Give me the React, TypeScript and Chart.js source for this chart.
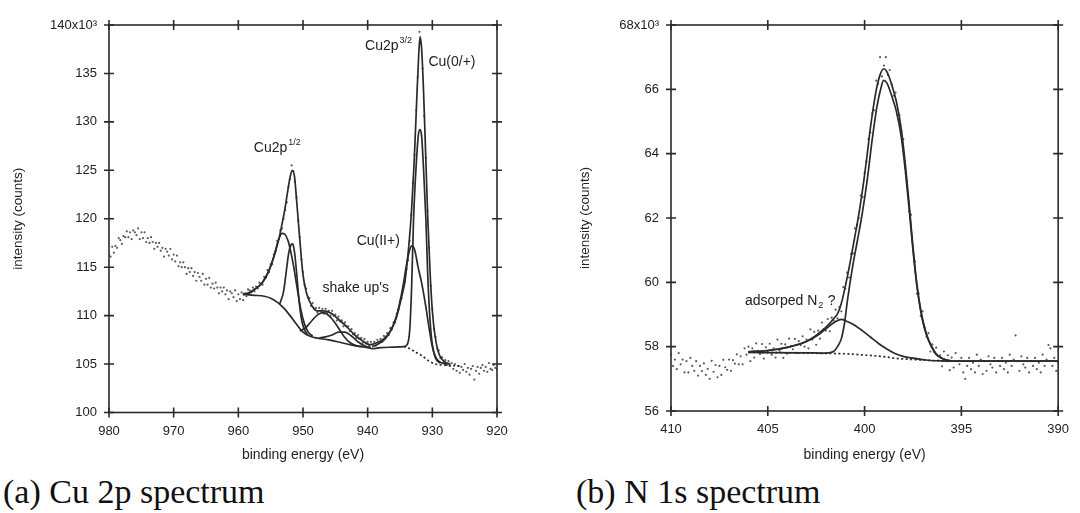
import React, { useEffect, useRef } from 'react';
import { Chart, registerables } from 'chart.js';

Chart.register(...registerables);

type P = [number, number];

// ---------- Panel (a): Cu 2p spectrum (binding energy eV, intensity x10^3 counts) ----------
const cuXTicks = { min: 920, max: 980, step: 10 };
const cuYTicks = { min: 100, max: 140, step: 5, topLabel: '140x10³' };

const cuData: P[] = [
  [980,116.3],[979.75,116.1],[979.5,117.1],[979.25,116.5],[979,117.2],[978.75,117.0],[978.5,118.0],[978.25,117.8],[978,117.4],[977.75,118.2],
  [977.5,118.1],[977.25,118.7],[977,118.1],[976.75,118.6],[976.5,117.9],[976.25,118.8],[976,118.6],[975.75,118.3],[975.5,119.0],[975.25,117.9],
  [975,118.6],[974.75,118.0],[974.5,118.6],[974.25,117.6],[974,118.0],[973.75,117.5],[973.5,118.1],[973.25,117.6],[973,116.9],[972.75,117.5],
  [972.5,117.1],[972.25,117.5],[972,116.7],[971.75,117.0],[971.5,116.1],[971.25,116.9],[971,116.6],[970.75,116.2],[970.5,116.9],[970.25,115.8],
  [970,116.3],[969.75,115.6],[969.5,116.2],[969.25,115.1],[969,115.5],[968.75,115.0],[968.5,115.5],[968.25,115.0],[968,114.3],[967.75,114.9],
  [967.5,114.5],[967.25,114.9],[967,114.1],[966.75,114.5],[966.5,113.6],[966.25,114.4],[966,114.0],[965.75,113.6],[965.5,114.3],[965.25,113.2],
  [965,113.8],[964.75,113.2],[964.5,113.9],[964.25,112.9],[964,113.3],[963.75,112.8],[963.5,113.4],[963.25,112.9],[963,112.3],[962.75,112.9],
  [962.5,112.5],[962.25,112.9],[962,112.2],[961.75,112.6],[961.5,111.7],[961.25,112.5],[961,112.3],[960.75,111.9],[960.5,112.6],[960.25,111.5],
  [960,112.2],[959.75,111.7],[959.5,112.4],[959.25,111.6],[959,112.3],[958.75,112.0],[958.5,112.7],
  [958.25,112.6],[958,112.4],[957.75,112.9],[957.5,112.5],[957.25,113.0],[957,112.8],[956.75,113.4],[956.5,113.3],[956.25,113.2],[956,114.0],
  [955.75,113.9],[955.5,114.7],[955.25,114.5],[955,115.3],[954.75,115.3],[954.5,116.3],[954.25,116.6],[954,117.7],[953.75,117.9],[953.5,118.8],
  [953.25,119.0],[953,120.0],[952.75,120.9],[952.5,121.7],[952.25,123.3],[952,124.1],[951.75,125.5],[951.5,124.9],[951.25,123.8],[951,122.2],
  [950.75,119.8],[950.5,118.1],[950.25,115.8],[950,114.5],[949.75,113.2],[949.5,112.8],[949.25,111.9],[949,111.8],[948.75,111.0],[948.5,111.3],
  [948.25,110.7],[948,110.8],[947.75,110.3],[947.5,110.8],[947.25,110.5],[947,110.7],[946.75,110.2],[946.5,110.7],[946.25,110.3],[946,110.5],
  [945.75,110.0],[945.5,110.5],[945.25,110.0],[945,110.1],[944.75,109.5],[944.5,109.9],[944.25,109.4],[944,109.5],[943.75,108.9],[943.5,109.3],
  [943.25,108.9],[943,108.9],[942.75,108.4],[942.5,108.6],[942.25,108.1],[942,108.2],[941.75,107.7],[941.5,108.0],[941.25,107.6],[941,107.7],
  [940.75,107.2],[940.5,107.6],[940.25,107.1],[940,107.3],[939.75,106.9],[939.5,107.3],[939.25,107.0],[939,107.3],[938.75,106.9],[938.5,107.5],
  [938.25,107.2],[938,107.6],[937.75,107.3],[937.5,107.9],[937.25,107.8],[937,108.2],[936.75,108.0],[936.5,108.7],[936.25,108.6],[936,109.3],
  [935.75,109.3],[935.5,110.2],[935.25,110.6],[935,111.5],[934.75,111.8],[934.5,113.0],[934.25,113.5],[934,114.8],[933.75,115.7],[933.5,117.7],
  [933.25,120.4],[933,123.7],[932.75,126.6],[932.5,131.2],[932.25,134.6],[932,139.3],[931.75,138.1],[931.5,135.5],[931.25,130.6],[931,126.3],
  [930.75,120.8],[930.5,117.0],[930.25,113.1],[930,110.7],[929.75,108.6],[929.5,107.8],[929.25,106.6],[929,106.4],[928.75,105.6],[928.5,105.7],
  [928.25,105.2],[928,105.4],[927.75,104.9],[927.5,105.3],[927.25,104.8],[927,105.1],
  [926.75,104.5],[926.5,105.0],[926.25,104.3],[926,104.8],[925.75,104.1],[925.5,104.7],[925.25,104.4],[925,105.0],[924.75,104.2],[924.5,104.6],
  [924.25,103.9],[924,104.5],[923.75,104.8],[923.5,103.4],[923.25,104.3],[923,104.7],[922.75,104.0],[922.5,104.6],[922.25,104.9],[922,104.3],
  [921.75,104.7],[921.5,104.2],[921.25,105.1],[921,104.5],[920.75,104.4],[920.5,104.9],[920.25,104.6],[920,104.5],
];

const cuEnvelope: P[] = [
  [959.3,112.2],[958.5,112.3],[957.5,112.7],[956.3,113.4],[955.3,114.6],[954.5,116.1],[953.7,118.0],[953.2,119.6],[952.8,121.0],[952.4,122.7],
  [952.0,124.3],[951.65,125.0],[951.3,124.3],[951.0,122.0],[950.5,117.9],[950.0,114.2],[949.4,112.2],[948.6,111.0],[947.8,110.5],[946.8,110.5],
  [945.5,110.2],[944.5,109.6],[943.3,108.9],[942.0,108.0],[940.8,107.4],[939.6,107.0],[938.6,107.2],[937.5,107.6],[936.5,108.4],[935.6,109.7],
  [934.8,111.8],[934.2,113.7],[933.6,117.5],[933.2,121.0],[932.8,126.0],[932.4,132.5],[932.1,137.0],[931.9,138.8],[931.65,137.5],[931.35,133.0],
  [931.0,126.0],[930.7,120.0],[930.35,114.5],[930.0,110.5],[929.6,108.0],[929.1,106.3],[928.5,105.5],[927.8,105.1],[927.2,105.0],
];
const cuBackground: P[] = [
  [959.3,112.2],[957.5,112.1],[956.0,112.0],[955.0,111.8],[954.0,111.4],[953.0,110.8],[952.0,110.0],[951.0,109.1],[950.0,108.3],[949.0,107.9],
  [948.0,107.7],[946.0,107.5],[944.0,107.2],[942.0,106.9],[940.0,106.7],[939.3,106.6],[938.0,106.7],[936.0,106.75],[934.4,106.8],
];
const cuBackgroundTail: P[] = [
  [934.4,106.8],[933.5,106.6],[932.5,106.2],[931.5,105.8],[930.5,105.3],[929.5,105.0],[928.5,104.9],[927.0,104.85],[925.5,104.8],
];
const cu12Broad: P[] = [
  [959.3,112.2],[958.5,112.3],[957.5,112.7],[956.3,113.4],[955.3,114.6],[954.5,116.1],[953.8,117.8],[953.25,118.5],[952.8,118.4],[952.3,117.7],
  [951.8,116.3],[951.3,114.5],[950.8,112.4],[950.3,110.5],[949.8,109.2],[949.2,108.3],[948.5,107.9],
];
const cu12Narrow: P[] = [
  [953.6,111.2],[953.0,112.5],[952.6,114.5],[952.2,116.5],[951.85,117.3],[951.6,117.4],[951.3,116.5],[951.0,114.5],[950.6,111.5],[950.2,109.5],
  [949.8,108.6],[949.3,108.0],
];
const cuShakeUp1: P[] = [
  [950.5,108.4],[949.5,108.8],[948.6,109.5],[947.7,110.1],[946.8,110.3],[946.0,110.0],[945.2,109.4],[944.4,108.6],[943.6,107.8],[942.7,107.2],
  [941.8,106.9],[940.8,106.8],
];
const cuShakeUp2: P[] = [
  [947.5,107.7],[946.5,107.8],[945.5,108.0],[944.5,108.3],[943.5,108.3],[942.5,107.9],[941.5,107.3],[940.5,106.9],[939.5,106.7],
];
const cuII: P[] = [
  [939.3,106.8],[938.3,107.1],[937.3,107.6],[936.3,108.6],[935.4,110.3],[934.6,112.8],[933.9,115.6],[933.4,117.0],[933.1,117.2],[932.7,116.7],
  [932.2,115.0],[931.6,113.2],[931.0,110.9],[930.4,108.3],[929.9,106.5],[929.3,105.5],[928.5,105.1],[927.7,105.0],
];
const cu0: P[] = [
  [934.4,106.8],[933.9,107.0],[933.5,108.5],[933.2,113.0],[932.9,120.0],[932.5,125.5],[932.15,128.7],[931.9,129.2],[931.65,128.5],[931.35,125.0],
  [931.0,120.0],[930.7,114.0],[930.35,109.5],[930.0,107.0],[929.5,105.6],[928.8,105.1],
];

// ---------- Panel (b): N 1s spectrum ----------
const nXTicks = { min: 390, max: 410, step: 5 };
const nYTicks = { min: 56, max: 68, step: 2, topLabel: '68x10³' };

const nData: P[] = [
  [410,57.75],[409.9,57.4],[409.8,57.6],[409.7,57.3],[409.6,57.8],[409.5,57.45],[409.4,57.6],[409.3,57.2],[409.2,57.55],[409.1,57.2],
  [409,57.65],[408.9,57.4],[408.8,57.25],[408.7,57.55],[408.6,57.1],[408.5,57.4],[408.4,57.24],[408.3,57.48],[408.2,57.12],[408.1,57.31],
  [408,57.0],[407.9,57.56],[407.8,57.22],[407.7,57.43],[407.6,57.05],[407.5,57.4],[407.4,57.12],[407.3,57.59],[407.2,57.36],[407.1,57.28],
  [407,57.6],[406.9,57.25],[406.8,57.58],[406.7,57.47],[406.6,57.76],[406.5,57.45],[406.4,57.7],[406.3,57.45],[406.2,57.95],[406.1,57.75],
  [406,58.0],[405.9,57.55],[405.8,57.95],[405.7,57.66],[405.6,58.1],[405.5,57.87],[405.4,57.77],[405.3,58.08],[405.2,57.63],[405.1,57.98],
  [405,57.83],[404.9,58.09],[404.8,57.75],[404.7,57.95],[404.6,57.66],[404.5,58.22],[404.4,57.88],[404.3,58.09],[404.2,57.65],[404.1,58.07],
  [404,57.78],[403.9,58.25],[403.8,58.01],[403.7,57.92],[403.6,58.24],[403.5,57.8],[403.4,58.17],[403.3,58.05],[403.2,58.32],[403.1,58.0],
  [403,58.22],[402.9,57.95],[402.8,58.54],[402.7,58.22],[402.6,58.46],[402.5,58.06],[402.4,58.5],[402.3,58.25],[402.2,58.75],[402.1,58.55],
  [402,58.5],[401.9,58.86],[401.8,58.48],[401.7,58.9],[401.6,58.82],[401.5,59.15],[401.4,58.88],[401.3,59.23],[401.2,59.1],[401.1,59.85],
  [401,59.8],[400.9,60.3],[400.8,60.15],[400.7,60.88],[400.6,60.9],[400.5,61.68],[400.4,61.77],[400.3,62.0],[400.2,62.7],[400.1,62.65],
  [400,63.4],[399.9,63.75],[399.8,64.45],[399.7,64.65],[399.6,65.25],[399.5,65.35],[399.4,66.27],[399.3,66.17],[399.2,67.0],[399.1,66.4],
  [399,66.74],[398.9,67.0],[398.8,66.45],[398.7,66.6],[398.6,66.15],[398.5,65.8],[398.4,65.9],[398.3,65.2],[398.2,65.2],[398.1,64.7],
  [398,64.45],[397.9,63.55],[397.8,63.15],[397.7,62.2],[397.6,62.1],[397.5,61.05],[397.4,60.65],[397.3,59.65],[397.2,59.65],[397.1,58.95],
  [397,59.1],[396.9,58.6],[396.8,58.3],[396.7,58.42],[396.6,57.85],[396.5,58.07],[396.4,57.83],[396.3,57.97],[396.2,57.57],[396.1,57.73],
  [396,57.39],[395.9,57.85],[395.8,57.55],[395.7,57.73],[395.6,57.27],[395.5,57.66],[395.4,57.35],[395.3,57.8],[395.2,57.55],[395.1,57.45],
  [395,57.65],[394.9,57.2],[394.8,57.0],[394.7,57.4],[394.6,57.65],[394.5,57.3],[394.4,57.5],[394.3,57.2],[394.2,57.75],[394.1,57.4],
  [394,57.6],[393.9,57.15],[393.8,57.55],[393.7,57.25],[393.6,57.7],[393.5,57.45],[393.4,57.35],[393.3,57.65],[393.2,57.2],[393.1,57.55],
  [393,57.4],[392.9,57.65],[392.8,57.3],[392.7,57.5],[392.6,57.2],[392.5,57.75],[392.4,57.4],[392.3,57.6],[392.2,58.35],[392.1,57.55],
  [392,57.25],[391.9,57.7],[391.8,57.45],[391.7,57.35],[391.6,57.65],[391.5,57.2],[391.4,57.55],[391.3,57.4],[391.2,57.65],[391.1,57.3],
  [391,57.5],[390.9,57.2],[390.8,57.75],[390.7,57.4],[390.6,57.6],[390.5,58.05],[390.4,57.95],[390.3,57.4],[390.2,57.65],[390.1,57.25],[390,57.5],
];

const nEnvelope: P[] = [
  [406.0,57.84],[405.0,57.88],[404.5,57.92],[404.0,57.98],[403.5,58.05],[403.0,58.17],[402.6,58.31],[402.2,58.5],[401.9,58.66],[401.6,58.87],
  [401.38,59.04],[401.2,59.35],[401.04,59.75],[400.79,60.48],[400.54,61.3],[400.29,62.14],[400.03,63.2],[399.86,64.0],[399.7,64.8],[399.4,65.97],
  [399.2,66.45],[399.02,66.64],[398.85,66.55],[398.6,66.15],[398.35,65.6],[398.1,64.75],[397.9,63.7],[397.7,62.45],[397.5,61.1],[397.3,59.95],
  [397.1,59.15],[396.9,58.6],[396.7,58.22],[396.5,57.97],[396.3,57.77],[396.0,57.64],[395.6,57.57],[395.2,57.55],[390.0,57.55],
];
const nMain: P[] = [
  [406.0,57.82],[403.0,57.81],[402.0,57.8],[401.6,57.85],[401.4,58.0],[401.2,58.25],[401.04,58.72],[400.87,59.5],[400.62,60.48],[400.37,61.3],
  [400.12,62.14],[399.86,63.2],[399.61,64.42],[399.36,65.47],[399.15,66.05],[399.02,66.28],[398.85,66.2],[398.6,65.8],[398.35,65.3],[398.1,64.5],
  [397.9,63.5],[397.7,62.3],[397.5,61.0],[397.3,59.9],[397.1,59.1],[396.9,58.55],[396.7,58.2],[396.5,57.95],[396.3,57.76],[396.0,57.63],
  [395.6,57.56],[395.2,57.55],[390.0,57.55],
];
const nAdsorbed: P[] = [
  [406.0,57.84],[405.0,57.88],[404.0,57.98],[403.0,58.16],[402.4,58.36],[401.9,58.6],[401.5,58.78],[401.2,58.85],[400.96,58.8],[400.6,58.7],
  [400.12,58.5],[399.7,58.3],[399.28,58.1],[398.85,57.93],[398.43,57.79],[398.0,57.7],[397.59,57.65],[397.0,57.6],[396.58,57.57],[396.0,57.56],[395.5,57.55],
];
const nBackground: P[] = [
  [406.0,57.82],[404.0,57.81],[402.0,57.79],[401.0,57.78],[400.0,57.74],[399.0,57.69],[398.43,57.64],[397.5,57.6],[396.5,57.57],[395.5,57.55],
];

// ---------- styling ----------
const LINE = '#2a2a2a';
const TEXT = '#222';
const POINT = '#5c5c5c';
const SANS = "'Liberation Sans', Arial, Helvetica, sans-serif";

type Part = { t: string; sup?: boolean; sub?: boolean };
type Note = { x: number; y: number; parts: Part[] };

const cuNotes: Note[] = [
  { x: 940.4, y: 137.8, parts: [{ t: 'Cu2p' }, { t: '3/2', sup: true }] },
  { x: 930.6, y: 136.2, parts: [{ t: 'Cu(0/+)' }] },
  { x: 957.6, y: 127.3, parts: [{ t: 'Cu2p' }, { t: '1/2', sup: true }] },
  { x: 941.7, y: 117.7, parts: [{ t: 'Cu(II+)' }] },
  { x: 947.0, y: 112.8, parts: [{ t: "shake up's" }] },
];
const nNotes: Note[] = [
  { x: 406.18, y: 59.4, parts: [{ t: 'adsorped N' }, { t: '2', sub: true }, { t: ' ?' }] },
];

type Panel = {
  xT: { min: number; max: number; step: number };
  yT: { min: number; max: number; step: number; topLabel: string };
  data: P[];
  solid: P[][];
  dotted: P[][];
  notes: Note[];
  yAxisW: number;
  xAxisH: number;
  padTop: number;
  padRight: number;
  yTitleX: number;
};

const xy = (a: P[]) => a.map(([x, y]) => ({ x, y }));

function makePlugin(p: Panel) {
  return {
    id: 'frameAndText',
    afterDatasetsDraw(chart: any) {
      const { ctx } = chart;
      const xs = chart.scales.x;
      const ys = chart.scales.y;
      ctx.save();
      ctx.fillStyle = TEXT;
      ctx.textBaseline = 'middle';
      ctx.textAlign = 'left';
      for (const n of p.notes) {
        let px = xs.getPixelForValue(n.x);
        const py = ys.getPixelForValue(n.y);
        for (const part of n.parts) {
          const small = part.sup || part.sub;
          ctx.font = `${small ? 9 : 14}px ${SANS}`;
          const dy = part.sup ? -6 : part.sub ? 4 : 0;
          ctx.fillText(part.t, px + (small ? 1 : 0), py + dy);
          px += ctx.measureText(part.t).width + (small ? 1.5 : 0);
        }
      }
      ctx.restore();
    },
    afterDraw(chart: any) {
      const { ctx, chartArea: a } = chart;
      const xs = chart.scales.x;
      const ys = chart.scales.y;
      ctx.save();
      ctx.strokeStyle = LINE;
      ctx.lineWidth = 1.6;
      ctx.strokeRect(a.left, a.top, a.right - a.left, a.bottom - a.top);
      ctx.beginPath();
      for (const t of xs.ticks) {
        const v = xs.getPixelForValue(t.value);
        ctx.moveTo(v, a.bottom - 5); ctx.lineTo(v, a.bottom + 5);
        ctx.moveTo(v, a.top - 5); ctx.lineTo(v, a.top + 5);
      }
      for (const t of ys.ticks) {
        const v = ys.getPixelForValue(t.value);
        ctx.moveTo(a.left - 5, v); ctx.lineTo(a.left + 5, v);
        ctx.moveTo(a.right - 5, v); ctx.lineTo(a.right + 5, v);
      }
      ctx.stroke();
      ctx.fillStyle = TEXT;
      ctx.textAlign = 'center';
      ctx.textBaseline = 'middle';
      ctx.font = `14px ${SANS}`;
      ctx.fillText('binding energy (eV)', (a.left + a.right) / 2, 455);
      ctx.translate(p.yTitleX, (a.top + a.bottom) / 2);
      ctx.rotate(-Math.PI / 2);
      ctx.font = `13.5px ${SANS}`;
      ctx.fillText('intensity (counts)', 0, 0);
      ctx.restore();
    },
  };
}

function buildChart(canvas: HTMLCanvasElement, p: Panel) {
  const lineBase = {
    showLine: true,
    pointRadius: 0,
    borderColor: LINE,
    borderWidth: 1.7,
    fill: false,
    cubicInterpolationMode: 'monotone' as const,
    order: 1,
  };
  const datasets: any[] = [
    {
      data: xy(p.data),
      showLine: false,
      pointRadius: 1.1,
      pointBorderWidth: 0,
      pointBackgroundColor: POINT,
      order: 5,
    },
    ...p.solid.map((s) => ({ ...lineBase, data: xy(s) })),
    ...p.dotted.map((s) => ({ ...lineBase, data: xy(s), borderDash: [2, 2.5], borderWidth: 1.7 })),
  ];
  const tickFont = { family: SANS, size: 13 };
  return new Chart(canvas, {
    type: 'scatter',
    data: { datasets },
    plugins: [makePlugin(p)],
    options: {
      responsive: false,
      animation: false,
      events: [],
      layout: { padding: { top: p.padTop, right: p.padRight, left: 0, bottom: 0 } },
      plugins: { legend: { display: false }, tooltip: { enabled: false } },
      scales: {
        x: {
          type: 'linear',
          reverse: true,
          min: p.xT.min,
          max: p.xT.max,
          grid: { display: false, drawTicks: false },
          border: { display: false },
          ticks: { stepSize: p.xT.step, color: TEXT, font: tickFont, padding: 11, maxRotation: 0, autoSkip: false },
          afterFit: (s: any) => { s.height = p.xAxisH; },
        },
        y: {
          type: 'linear',
          min: p.yT.min,
          max: p.yT.max,
          grid: { display: false, drawTicks: false },
          border: { display: false },
          ticks: {
            stepSize: p.yT.step,
            color: TEXT,
            font: tickFont,
            padding: 12,
            autoSkip: false,
            callback: (v: any) => (Number(v) === p.yT.max ? p.yT.topLabel : String(v)),
          },
          afterFit: (s: any) => { s.width = p.yAxisW; },
        },
      },
    } as any,
  });
}

const cuPanel: Panel = {
  xT: cuXTicks,
  yT: cuYTicks,
  data: cuData,
  solid: [cuEnvelope, cuBackground, cu12Broad, cu12Narrow, cuShakeUp1, cuShakeUp2, cuII, cu0],
  dotted: [cuBackgroundTail],
  notes: cuNotes,
  yAxisW: 109,
  xAxisH: 57.5,
  padTop: 25,
  padRight: 43,
  yTitleX: 18.5,
};

const nPanel: Panel = {
  xT: nXTicks,
  yT: nYTicks,
  data: nData,
  solid: [nEnvelope, nMain, nAdsorbed],
  dotted: [nBackground],
  notes: nNotes,
  yAxisW: 131,
  xAxisH: 59,
  padTop: 25,
  padRight: 13,
  yTitleX: 45,
};

export default function App() {
  const leftRef = useRef<HTMLCanvasElement>(null);
  const rightRef = useRef<HTMLCanvasElement>(null);

  useEffect(() => {
    const a = buildChart(leftRef.current as HTMLCanvasElement, cuPanel);
    const b = buildChart(rightRef.current as HTMLCanvasElement, nPanel);
    return () => {
      a.destroy();
      b.destroy();
    };
  }, []);

  const caption: React.CSSProperties = {
    position: 'absolute',
    top: 475,
    fontFamily: "'Liberation Serif', 'Times New Roman', serif",
    fontSize: 34,
    lineHeight: '34px',
    color: '#111',
    whiteSpace: 'nowrap',
  };

  return (
    <div style={{ position: 'fixed', left: 0, top: 0, width: 1080, height: 513, background: '#fff', overflow: 'hidden' }}>
      <canvas ref={leftRef} width={540} height={470} style={{ position: 'absolute', left: 0, top: 0, width: 540, height: 470 }} />
      <canvas ref={rightRef} width={540} height={470} style={{ position: 'absolute', left: 540, top: 0, width: 540, height: 470 }} />
      <div style={{ ...caption, left: 3 }}>(a) Cu 2p spectrum</div>
      <div style={{ ...caption, left: 576 }}>(b) N 1s spectrum</div>
    </div>
  );
}
